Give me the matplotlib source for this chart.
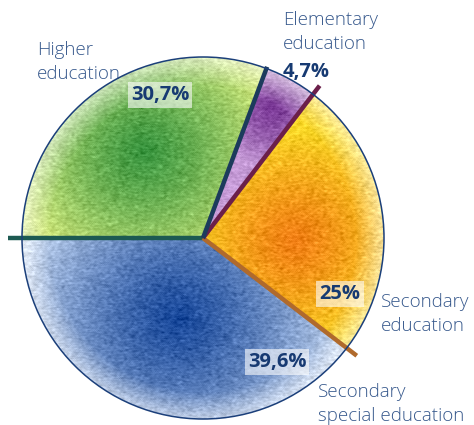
import numpy as np
import matplotlib.pyplot as plt
from matplotlib.colors import to_rgb

plt.rcParams['font.family'] = ['Open Sans', 'DejaVu Sans']

labels = ['Secondary\nspecial education', 'Secondary\neducation', 'Elementary\neducation', 'Higher\neducation']
shares = [39.6, 25.0, 4.7, 30.7]
pct_text = ['39,6%', '25%', '4,7%', '30,7%']

W, H = 474, 425
cx, cy, R = 203, 187, 181

# pencil-like shading: (dark core colour, light rim colour, core position, spread)
shading = [
    ('#17479a', '#c6d7ef', (178, 108), 170),
    ('#f07e14', '#f9d626', (295, 185), 110),
    ('#7a3896', '#c59ad6', (272, 318), 60),
    ('#3a9640', '#cfe67a', (145, 275), 130),
]
sep_colors = ['#1d5a52', '#b06a2c', '#6b1f4a', '#1c3b5c']
sep_reach = [1.08, 1.07, 1.06, 1.01]

fig = plt.figure(figsize=(W / 100, H / 100), dpi=100)
ax = fig.add_axes([0, 0, 1, 1])

wedges, _ = ax.pie(shares, startangle=180, counterclock=True,
                   center=(cx, cy), radius=R, frame=True)
ax.set_xlim(0, W)
ax.set_ylim(0, H)
ax.set_aspect('equal')
ax.axis('off')

yy, xx = np.mgrid[H:0:-1, 0:W] + 0.5
rr = np.hypot(xx - cx, yy - cy)
rng = np.random.default_rng(3)
grain = rng.normal(0, 1, (H, W))
for k in range(2):
    grain = (grain + np.roll(grain, 1, 0) + np.roll(grain, 1, 1) + np.roll(grain, -1, 1)) / 4
grain /= grain.std()

for w, (inner, outer, (px, py), spread) in zip(wedges, shading):
    w.set_facecolor('none')
    w.set_edgecolor('none')
    c0 = np.array(to_rgb(inner))
    c1 = np.array(to_rgb(outer))
    t = np.clip(np.hypot(xx - px, yy - py) / spread, 0, 1)[..., None] ** 1.2
    img = c0 * (1 - t) + c1 * t
    rim = np.clip((rr - (R - 28)) / 28, 0, 1)[..., None] * 0.55
    img = img * (1 - rim) + rim
    img = np.clip(img + grain[..., None] * 0.035, 0, 1)
    im = ax.imshow(img, extent=(0, W, 0, H), origin='upper', zorder=1)
    im.set_clip_path(w)

# separator strokes along slice edges
edges = 180 + np.concatenate([[0], np.cumsum(shares)[:-1]]) * 3.6
for ang, col, reach in zip(edges, sep_colors, sep_reach):
    a = np.deg2rad(ang)
    ax.plot([cx, cx + reach * R * np.cos(a)], [cy, cy + reach * R * np.sin(a)],
            color=col, lw=3.2, solid_capstyle='butt', zorder=3)

ax.add_patch(plt.Circle((cx, cy), R, fill=False, ec='#1b3f7a', lw=1.1, zorder=4))

lab_col = '#36588c'
pct_col = '#173a72'
lab_kw = dict(fontsize=13.5, fontweight='light', color=lab_col, va='center',
              ha='left', linespacing=1.38)
ax.text(37, H - 62, labels[3], **lab_kw)
ax.text(283, H - 32, labels[2], **lab_kw)
ax.text(381, H - 314, labels[1], **lab_kw)
ax.text(318, H - 404, labels[0], **lab_kw)

box = dict(boxstyle='square,pad=0.15', fc='white', ec='none', alpha=0.6)
pct_kw = dict(fontsize=14.5, fontweight='bold', color=pct_col, va='center', zorder=5)
ax.text(160, H - 95, pct_text[3], bbox=box, ha='center', **pct_kw)
ax.text(340, H - 294, pct_text[1], bbox=box, ha='center', **pct_kw)
ax.text(277, H - 362, pct_text[0], bbox=box, ha='center', **pct_kw)
ax.text(283, H - 72, pct_text[2], ha='left', **pct_kw)

fig.savefig('out.png', dpi=100)
